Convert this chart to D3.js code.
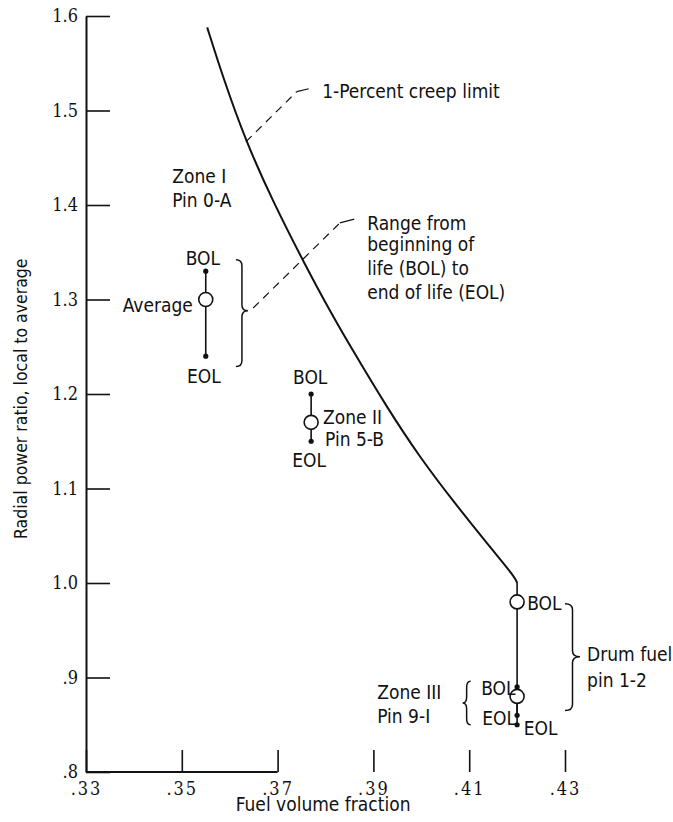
<!DOCTYPE html>
<html>
<head>
<meta charset="utf-8">
<script src="https://cdn.jsdelivr.net/npm/d3@7"></script>
<style>
  html, body { margin: 0; padding: 0; background: #fff; }
  svg text { font-family: "DejaVu Sans Condensed", "Liberation Sans Narrow", sans-serif; fill: #111; }
</style>
</head>
<body>
<div id="chart"></div>
<script>
// axis ticks
const xTicks = [0.33, 0.35, 0.37, 0.39, 0.41, 0.43];
const xTickLabels = [".33", ".35", ".37", ".39", ".41", ".43"];
const yTicks = [0.8, 0.9, 1.0, 1.1, 1.2, 1.3, 1.4, 1.5, 1.6];
const yTickLabels = [".8", ".9", "1.0", "1.1", "1.2", "1.3", "1.4", "1.5", "1.6"];

// 1-percent creep limit curve
const creepX = [0.3553, 0.3586, 0.3634, 0.3690, 0.3757, 0.3809, 0.3857, 0.3928, 0.3997, 0.4066, 0.4137, 0.4196, 0.4200];
const creepY = [1.588, 1.535, 1.467, 1.404, 1.337, 1.288, 1.246, 1.186, 1.133, 1.087, 1.042, 1.006, 1.000];

// fuel pins: BOL / average / EOL
const pinNames = ["Zone I", "Zone II", "Drum", "Zone III"];
const pinX   = [0.355, 0.377, 0.420, 0.420];
const pinBOL = [1.33, 1.20, 0.98, 0.89];
const pinAvg = [1.30, 1.17, 0.98, 0.88];
const pinEOL = [1.24, 1.15, 0.85, 0.86];

const width = 673, height = 822;
const margin = { top: 16, right: 108, bottom: 50, left: 86 };
const innerWidth = width - margin.left - margin.right;
const innerHeight = height - margin.top - margin.bottom;

const svg = d3.select("#chart").append("svg")
    .attr("width", width)
    .attr("height", height);

const g = svg.append("g")
    .attr("transform", `translate(${margin.left},${margin.top})`);

const x = d3.scaleLinear().domain([0.33, 0.43]).range([0, innerWidth]);
const y = d3.scaleLinear().domain([0.8, 1.6]).range([innerHeight, 0]);

// Y axis, ticks pointing inward
const yAxis = g.append("g")
    .call(d3.axisLeft(y)
        .tickValues(yTicks)
        .tickSizeInner(-24)
        .tickSizeOuter(0)
        .tickPadding(8)
        .tickFormat((d, i) => yTickLabels[i]));
yAxis.select(".domain").attr("stroke", "#111").attr("stroke-width", 2);
yAxis.selectAll(".tick line").attr("stroke", "#111").attr("stroke-width", 1.6);
yAxis.selectAll(".tick text")
    .style("font-family", "'DejaVu Serif Condensed', 'Liberation Serif', serif")
    .attr("font-size", "18px");

// X axis, ticks pointing up; baseline only drawn to .37
const xAxis = g.append("g")
    .attr("transform", `translate(0,${innerHeight})`)
    .call(d3.axisBottom(x)
        .tickValues(xTicks)
        .tickSizeInner(-22)
        .tickSizeOuter(0)
        .tickPadding(10)
        .tickFormat((d, i) => xTickLabels[i]));
xAxis.select(".domain").remove();
xAxis.selectAll(".tick line").attr("stroke", "#111").attr("stroke-width", 1.6);
xAxis.selectAll(".tick text")
    .style("font-family", "'DejaVu Serif Condensed', 'Liberation Serif', serif")
    .attr("font-size", "18px")
    .attr("letter-spacing", "2px");

g.append("line")
    .attr("x1", x(0.33)).attr("x2", x(0.37))
    .attr("y1", y(0.8)).attr("y2", y(0.8))
    .attr("stroke", "#111").attr("stroke-width", 2);

// Axis titles
svg.append("text")
    .attr("x", margin.left + x(0.3795))
    .attr("y", 811)
    .attr("text-anchor", "middle")
    .attr("font-size", "19px")
    .text("Fuel volume fraction");

svg.append("text")
    .attr("transform", `translate(27,${margin.top + y(1.195)}) rotate(-90)`)
    .attr("text-anchor", "middle")
    .attr("font-size", "17.5px")
    .text("Radial power ratio,  local to average");

// Creep limit curve
const creep = creepX.map((v, i) => [v, creepY[i]]);
g.append("path")
    .datum(creep)
    .attr("fill", "none")
    .attr("stroke", "#111")
    .attr("stroke-width", 2)
    .attr("d", d3.line().x(d => x(d[0])).y(d => y(d[1])).curve(d3.curveBasis));

// drum pin joins the end of the curve
g.append("line")
    .attr("x1", x(creepX[creepX.length - 1])).attr("x2", x(pinX[2]))
    .attr("y1", y(creepY[creepY.length - 1])).attr("y2", y(pinBOL[2]))
    .attr("stroke", "#111").attr("stroke-width", 1.6);

// Pin ranges
const pins = pinNames.map((n, i) => ({ name: n, x: pinX[i], bol: pinBOL[i], avg: pinAvg[i], eol: pinEOL[i] }));

g.selectAll("line.range")
    .data(pins)
    .enter()
    .append("line")
    .attr("class", "range")
    .attr("x1", d => x(d.x)).attr("x2", d => x(d.x))
    .attr("y1", d => y(d.bol)).attr("y2", d => y(d.eol))
    .attr("stroke", "#111").attr("stroke-width", 1.6);

const ends = [];
pins.forEach(d => { ends.push([d.x, d.bol]); ends.push([d.x, d.eol]); });
g.selectAll("circle.end")
    .data(ends)
    .enter()
    .append("circle")
    .attr("class", "end")
    .attr("cx", d => x(d[0]))
    .attr("cy", d => y(d[1]))
    .attr("r", 2.6)
    .attr("fill", "#111");

g.selectAll("circle.avg")
    .data(pins)
    .enter()
    .append("circle")
    .attr("class", "avg")
    .attr("cx", d => x(d.x))
    .attr("cy", d => y(d.avg))
    .attr("r", 7)
    .attr("fill", "#fff")
    .attr("stroke", "#111")
    .attr("stroke-width", 1.6);

// Braces
function brace(x0, y1, y2, ym, w) {
    const xm = x0 + w / 2, q = 6;
    return `M${x0},${y1} Q${xm},${y1} ${xm},${y1 + q} L${xm},${ym - q} Q${xm},${ym} ${x0 + w},${ym}` +
        ` Q${xm},${ym} ${xm},${ym + q} L${xm},${y2 - q} Q${xm},${y2} ${x0},${y2}`;
}
const braces = [
    { x: 0.3613, y1: 1.342, y2: 1.229, ym: 1.288, w: 12 },
    { x: 0.4300, y1: 0.978, y2: 0.865, ym: 0.922, w: 15 },
    { x: 0.4103, y1: 0.896, y2: 0.850, ym: 0.873, w: -8 }
];
g.selectAll("path.brace")
    .data(braces)
    .enter()
    .append("path")
    .attr("class", "brace")
    .attr("fill", "none")
    .attr("stroke", "#111")
    .attr("stroke-width", 1.5)
    .attr("d", d => brace(x(d.x), y(d.y1), y(d.y2), y(d.ym), d.w));

// Leader lines
const leaders = [
    [[0.3634, 1.467], [0.3740, 1.520]],
    [[0.3649, 1.291], [0.3830, 1.381]]
];
const hooks = [
    [[0.3740, 1.520], [0.3765, 1.523]],
    [[0.3830, 1.381], [0.3860, 1.385]]
];
const lineGen = d3.line().x(d => x(d[0])).y(d => y(d[1]));
g.selectAll("path.leader")
    .data(leaders)
    .enter()
    .append("path")
    .attr("fill", "none")
    .attr("stroke", "#111")
    .attr("stroke-width", 1.2)
    .attr("stroke-dasharray", "8,6")
    .attr("d", lineGen);
g.selectAll("path.hook")
    .data(hooks)
    .enter()
    .append("path")
    .attr("fill", "none")
    .attr("stroke", "#111")
    .attr("stroke-width", 1.2)
    .attr("d", lineGen);

// Labels
const labels = [
    { t: "1-Percent creep limit", x: 0.3793, y: 1.520, a: "start" },
    { t: "Range from", x: 0.3887, y: 1.381, a: "start" },
    { t: "beginning of", x: 0.3887, y: 1.358, a: "start" },
    { t: "life (BOL) to", x: 0.3887, y: 1.333, a: "start" },
    { t: "end of life (EOL)", x: 0.3887, y: 1.308, a: "start" },
    { t: "Zone I", x: 0.3480, y: 1.430, a: "start" },
    { t: "Pin 0-A", x: 0.3480, y: 1.405, a: "start" },
    { t: "BOL", x: 0.3544, y: 1.344, a: "middle" },
    { t: "Average", x: 0.3523, y: 1.294, a: "end" },
    { t: "EOL", x: 0.3546, y: 1.219, a: "middle" },
    { t: "BOL", x: 0.3768, y: 1.218, a: "middle" },
    { t: "EOL", x: 0.3766, y: 1.130, a: "middle" },
    { t: "Zone II", x: 0.3795, y: 1.175, a: "start" },
    { t: "Pin 5-B", x: 0.3799, y: 1.152, a: "start" },
    { t: "BOL", x: 0.4221, y: 0.978, a: "start" },
    { t: "Drum fuel", x: 0.4346, y: 0.924, a: "start" },
    { t: "pin 1-2", x: 0.4346, y: 0.897, a: "start" },
    { t: "Zone III", x: 0.3908, y: 0.884, a: "start" },
    { t: "Pin 9-I", x: 0.3908, y: 0.859, a: "start" },
    { t: "BOL", x: 0.4125, y: 0.889, a: "start" },
    { t: "EOL", x: 0.4127, y: 0.857, a: "start" },
    { t: "EOL", x: 0.4214, y: 0.846, a: "start" }
];
g.selectAll("text.label")
    .data(labels)
    .enter()
    .append("text")
    .attr("class", "label")
    .attr("x", d => x(d.x))
    .attr("y", d => y(d.y))
    .attr("dy", "0.35em")
    .attr("text-anchor", d => d.a)
    .attr("font-size", "19px")
    .text(d => d.t);
</script>
</body>
</html>
